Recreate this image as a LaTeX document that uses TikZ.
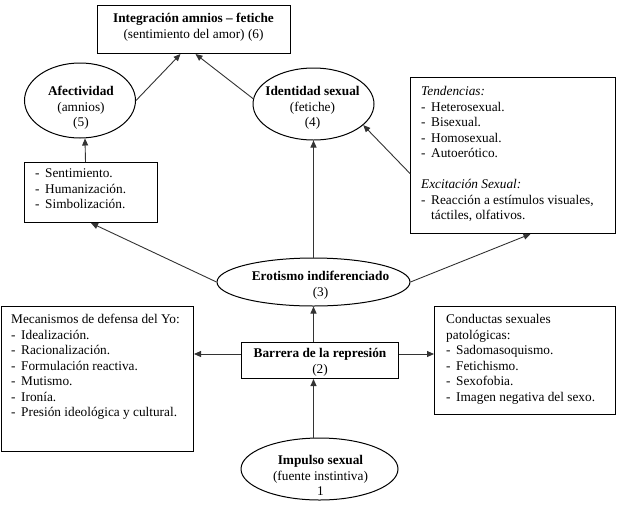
\documentclass[tikz,border=0pt]{standalone}
\usepackage{fontspec}
\setmainfont{Liberation Serif}[BoldFont={Liberation Serif Bold},ItalicFont={Liberation Serif Italic}]
\usetikzlibrary{shapes.geometric,arrows.meta}
\newcommand{\dl}[1]{\par\hangindent=10pt\hangafter=1\noindent\makebox[10pt][l]{-}#1}
\newcommand{\lbox}[2]{\begin{minipage}[t]{#1}\fontsize{13.3pt}{15.5pt}\selectfont\raggedright\parindent=0pt #2\end{minipage}}
\newcommand{\cbox}[1]{\begin{minipage}[t]{220pt}\fontsize{13.3pt}{15.5pt}\selectfont\centering #1\end{minipage}}
\begin{document}
\begin{tikzpicture}[x=1pt,y=-1pt,
  shp/.style={draw=black, line width=1pt, inner sep=0pt},
  rbox/.style={shp, rectangle, anchor=north west},
  ell/.style={shp, ellipse},
  txt/.style={inner sep=0pt, anchor=base west},
  ctxt/.style={inner sep=0pt, anchor=base},
  arr/.style={draw=black!80, line width=0.9pt, -{Triangle[length=7pt,width=6pt]}}]
\useasboundingbox (0,0) rectangle (620,509);
% shapes
\node[rbox, minimum width=193pt, minimum height=48pt] (int) at (97,5) {};
\node[rbox, minimum width=133pt, minimum height=60pt] (sent) at (24,162) {};
\node[rbox, minimum width=205pt, minimum height=156pt] (tend) at (410,77) {};
\node[rbox, minimum width=157pt, minimum height=36pt] (bar) at (241,342) {};
\node[rbox, minimum width=192pt, minimum height=145pt] (mec) at (1,306) {};
\node[rbox, minimum width=181pt, minimum height=108pt] (cond) at (434,306) {};
\node[ell, minimum width=111pt, minimum height=75pt] (afe) at (80,100.5) {};
\node[ell, minimum width=121pt, minimum height=72pt] (ide) at (313.5,104) {};
\node[ell, minimum width=193pt, minimum height=48pt] (ero) at (313.5,282) {};
\node[ell, minimum width=157pt, minimum height=62pt] (imp) at (319.5,469) {};
% texts
\node[ctxt] (intT) at (193.5,22.5) {\cbox{\textbf{Integración amnios – fetiche}\\(sentimiento del amor) (6)}};
\node[ctxt] (afeT) at (81,95.5) {\cbox{\textbf{Afectividad}\\(amnios)\\(5)}};
\node[ctxt] (ideT) at (312.5,95.5) {\cbox{\textbf{Identidad sexual}\\(fetiche)\\(4)}};
\node[txt] (sentT) at (35,177.5) {\lbox{120pt}{\dl{Sentimiento.}\dl{Humanización.}\dl{Simbolización.}}};
\node[txt] (tendT) at (421,95.5) {\lbox{190pt}{\textit{Tendencias:}\dl{Heterosexual.}\dl{Bisexual.}\dl{Homosexual.}\dl{Autoerótico.}\par\vspace{15.5pt}\textit{Excitación Sexual:}\dl{Reacción a estímulos visuales,\newline táctiles, olfativos.}}};
\node[ctxt] (eroT) at (320.5,280.5) {\cbox{\textbf{Erotismo indiferenciado}\\(3)}};
\node[ctxt] (barT) at (320,357.5) {\cbox{\textbf{Barrera de la represión}\\(2)}};
\node[txt] (mecT) at (11,323.5) {\lbox{180pt}{Mecanismos de defensa del Yo:\dl{Idealización.}\dl{Racionalización.}\dl{Formulación reactiva.}\dl{Mutismo.}\dl{Ironía.}\dl{Presión ideológica y cultural.}}};
\node[txt] (condT) at (446,323.5) {\lbox{165pt}{Conductas sexuales\newline patológicas:\dl{Sadomasoquismo.}\dl{Fetichismo.}\dl{Sexofobia.}\dl{Imagen negativa del sexo.}}};
\node[ctxt] (impT) at (320.5,464.5) {\cbox{\textbf{Impulso sexual}\\(fuente instintiva)\\1}};
% connectors
\coordinate (hy) at (0,354);
\draw[arr] (afe.east) -- ([xshift=-13.5pt]int.south);
\draw[arr] (ide.175) -- ([xshift=1.5pt]int.south);
\draw[arr] ([xshift=-5.5pt]sent.north) -- ([xshift=5pt]afe.south);
\draw[arr] (ero.west) -- (sent.south);
\draw[arr] (ero.east) -- ([xshift=17.5pt]tend.south);
\draw[arr] (ero.north) -- (ide.south);
\draw[arr] ([yshift=-18pt]tend.west) -- (ide.-23);
\draw[arr] (bar.west |- hy) -- (mec.east |- hy);
\draw[arr] (bar.east |- hy) -- (cond.west |- hy);
\draw[arr] (bar.north -| ero.south) -- (ero.south);
\draw[arr] (imp.north -| ero.south) -- (bar.south -| ero.south);
\end{tikzpicture}
\end{document}
